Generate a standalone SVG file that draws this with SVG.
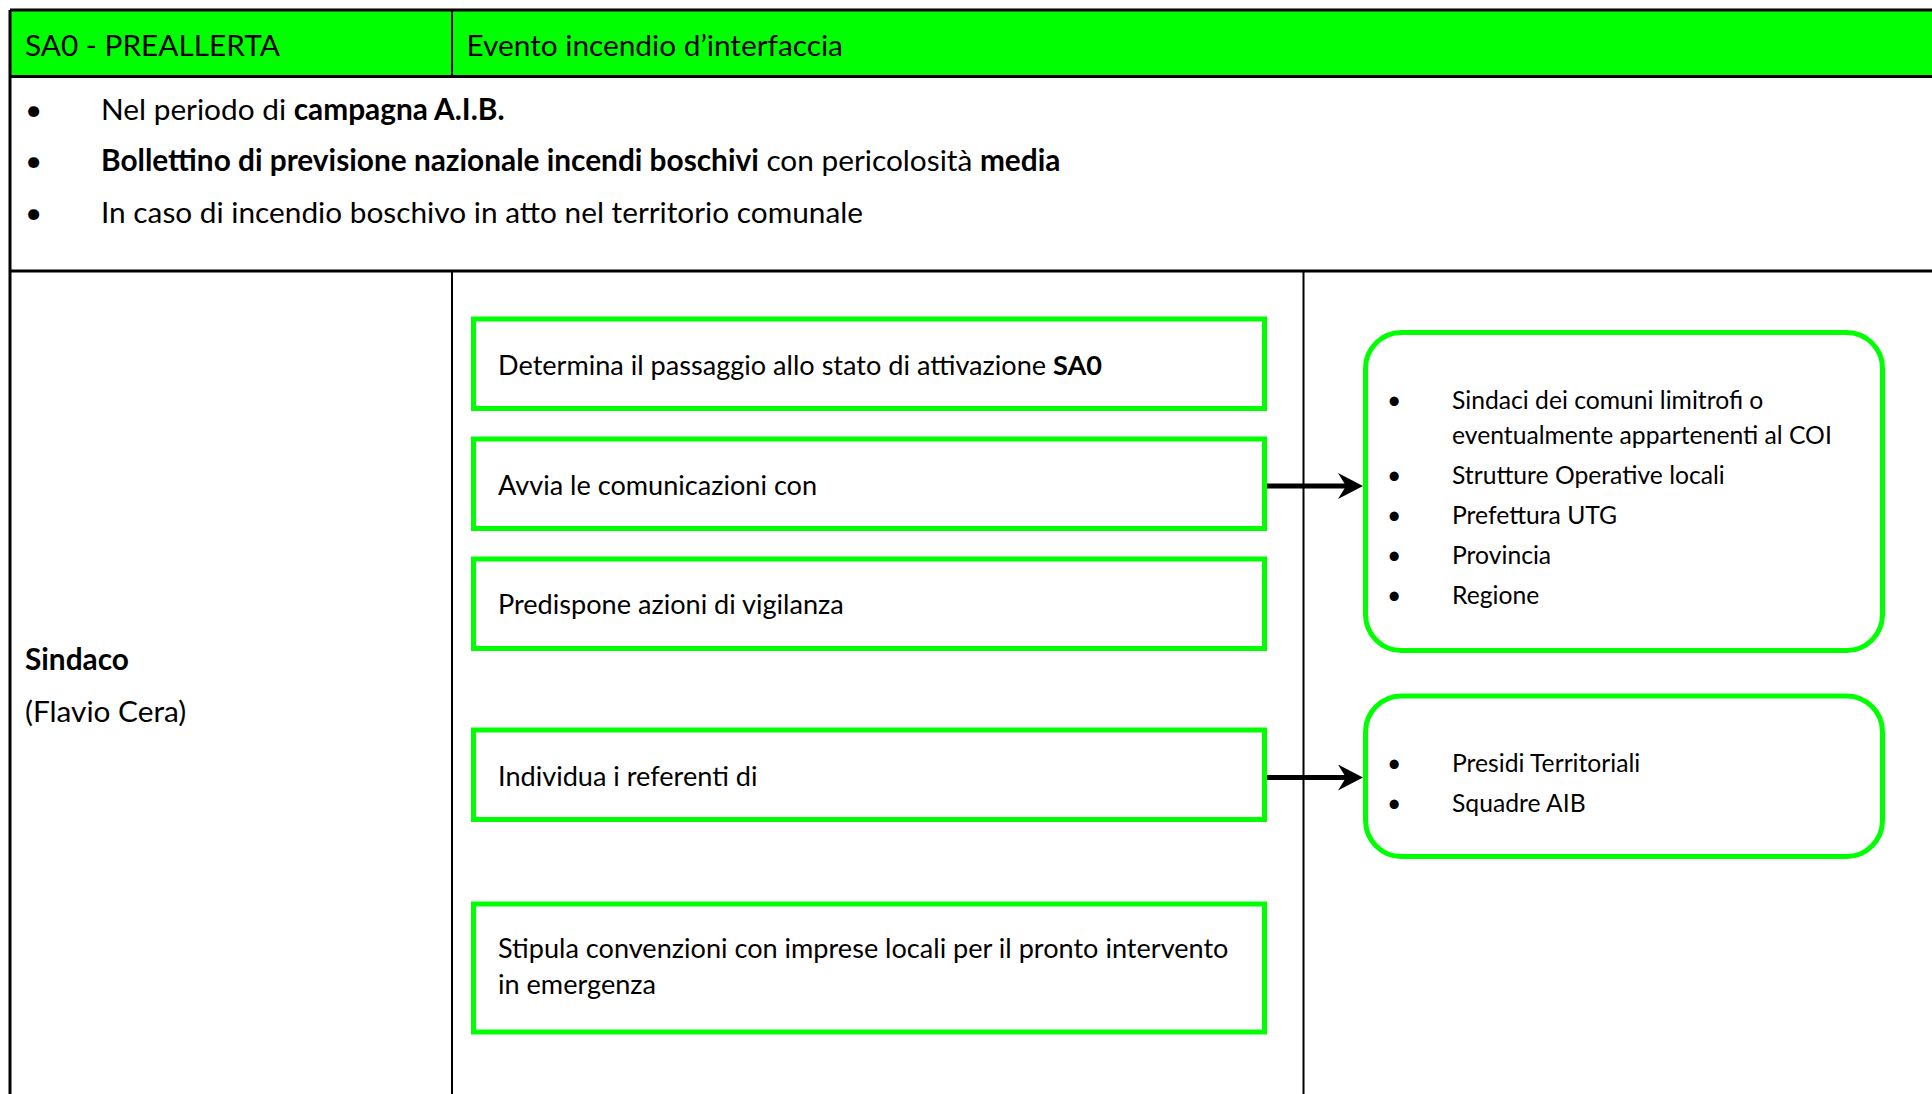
<svg xmlns="http://www.w3.org/2000/svg" width="1932" height="1094" viewBox="0 0 1932 1094">
<style>
text { font-family: Lato, "Open Sans", "Liberation Sans", sans-serif; fill: #000; }
.t32 { font-size: 29.8px; }
.t29 { font-size: 27.1px; }
.t27 { font-size: 24.7px; }
.b { font-weight: bold; }
.box { fill: #fff; stroke: #00ff00; stroke-width: 5; }
.rbox { fill: #fff; stroke: #00ff00; stroke-width: 5; }
.hl { stroke: #000; stroke-width: 3; fill: none; }
.vl { stroke: #000; stroke-width: 2; fill: none; }
.conn { stroke: #000; stroke-width: 5; fill: none; }
</style>
<defs>
<marker id="ah" markerUnits="userSpaceOnUse" viewBox="0 0 25 26" refX="12" refY="13" markerWidth="25" markerHeight="26" orient="auto">
<path d="M0,0 L25,13 L0,26 L8,13 Z" fill="#000"/>
</marker>
</defs>
<rect width="1932" height="1094" fill="#fff"/>

<g id="table">
<rect x="10" y="10" width="1922" height="66.5" fill="#00ff00"/>
<line class="hl" x1="10" y1="10" x2="1932" y2="10"/>
<line class="hl" x1="10" y1="76.5" x2="1932" y2="76.5"/>
<line class="hl" x1="10" y1="271" x2="1932" y2="271"/>
<line class="hl" x1="10" y1="10" x2="10" y2="1094"/>
<line class="vl" x1="452" y1="10" x2="452" y2="76.5"/>
<line class="vl" x1="452" y1="271" x2="452" y2="1094"/>
<line class="vl" x1="1303.5" y1="271" x2="1303.5" y2="1094"/>
</g>

<g id="header-state">
<text class="t32" x="25" y="55.5">SA0 - PREALLERTA</text>
</g>
<g id="header-event">
<text class="t32" x="466.5" y="55.5">Evento incendio d’interfaccia</text>
</g>

<g id="conditions">
<text class="t32" x="25" y="119.5">•</text>
<text class="t32" x="101" y="119.5">Nel periodo di <tspan class="b">campagna A.I.B.</tspan></text>
<text class="t32" x="25" y="171">•</text>
<text class="t32" x="101" y="171"><tspan class="b">Bollettino di previsione nazionale incendi boschivi</tspan> con pericolosità <tspan class="b">media</tspan></text>
<text class="t32" x="25" y="223">•</text>
<text class="t32" x="101" y="223">In caso di incendio boschivo in atto nel territorio comunale</text>
</g>

<g id="role">
<text class="t32 b" x="25" y="670">Sindaco</text>
<text class="t32" x="25" y="722">(Flavio Cera)</text>
</g>

<g id="box1">
<rect class="box" x="473.5" y="319" width="791" height="89.5"/>
<text class="t29" x="498" y="375">Determina il passaggio allo stato di attivazione <tspan class="b">SA0</tspan></text>
</g>
<g id="box2">
<rect class="box" x="473.5" y="439" width="791" height="89.5"/>
<text class="t29" x="498" y="494.5">Avvia le comunicazioni con</text>
</g>
<g id="box3">
<rect class="box" x="473.5" y="559" width="791" height="89.5"/>
<text class="t29" x="498" y="614">Predispone azioni di vigilanza</text>
</g>
<g id="box4">
<rect class="box" x="473.5" y="730" width="791" height="89.5"/>
<text class="t29" x="498" y="785.5">Individua i referenti di</text>
</g>
<g id="box5">
<rect class="box" x="473.5" y="904" width="791" height="128"/>
<text class="t29" x="498" y="957.5">Stipula convenzioni con imprese locali per il pronto intervento</text>
<text class="t29" x="498" y="993.5">in emergenza</text>
</g>

<g id="boxA">
<rect class="rbox" x="1365.5" y="332.5" width="517" height="318" rx="36" ry="36"/>
<text class="t27" x="1387" y="409">•</text>
<text class="t27" x="1452" y="409">Sindaci dei comuni limitrofi o</text>
<text class="t27" x="1452" y="443.5">eventualmente appartenenti al COI</text>
<text class="t27" x="1387" y="483.5">•</text>
<text class="t27" x="1452" y="483.5">Strutture Operative locali</text>
<text class="t27" x="1387" y="523.5">•</text>
<text class="t27" x="1452" y="523.5">Prefettura UTG</text>
<text class="t27" x="1387" y="563.5">•</text>
<text class="t27" x="1452" y="563.5">Provincia</text>
<text class="t27" x="1387" y="603.5">•</text>
<text class="t27" x="1452" y="603.5">Regione</text>
</g>

<g id="boxB">
<rect class="rbox" x="1365.5" y="696" width="517" height="160.5" rx="36" ry="36"/>
<text class="t27" x="1387" y="771.5">•</text>
<text class="t27" x="1452" y="771.5">Presidi Territoriali</text>
<text class="t27" x="1387" y="811.5">•</text>
<text class="t27" x="1452" y="811.5">Squadre AIB</text>
</g>

<g id="connectors">
<line class="conn" x1="1267" y1="486" x2="1350" y2="486" marker-end="url(#ah)"/>
<line class="conn" x1="1267" y1="777.5" x2="1350" y2="777.5" marker-end="url(#ah)"/>
</g>
</svg>
